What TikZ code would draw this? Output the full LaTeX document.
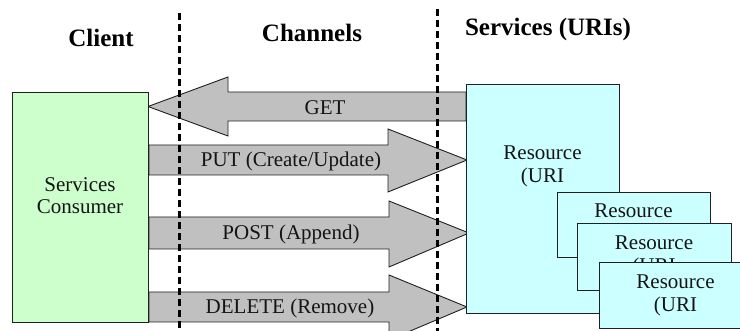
\documentclass[tikz,border=0pt]{standalone}
\usepackage{fontspec}
\setmainfont{Liberation Serif}
\definecolor{arrowgray}{HTML}{C0C0C0}
\definecolor{clientgreen}{HTML}{CCFFCC}
\definecolor{rescyan}{HTML}{CCFFFF}
\definecolor{outline}{HTML}{202020}
\begin{document}
\begin{tikzpicture}[x=1pt,y=-1pt,
  outl/.style={draw=outline, line width=0.9pt},
  blockarrow/.style={outl, fill=arrowgray, line join=miter},
  boxnode/.style={outl, rectangle, inner sep=0pt, outer sep=0pt, anchor=north west},
  hdr/.style={font=\fontsize{25}{28}\selectfont\bfseries, inner sep=0pt, anchor=base},
  lbl/.style={font=\fontsize{21}{23}\selectfont, inner sep=0pt, anchor=base, text=black!92},
  divider/.style={line width=3pt, dash pattern=on 7pt off 4pt, draw=black}]
\useasboundingbox (0,0) rectangle (740,331);
\clip (0,0) rectangle (740,331);
\fill[white] (0,0) rectangle (740,331);

% headers
\node[hdr] (hclient) at (101,47) {Client};
\node[hdr] (hchannels) at (312,42) {Channels};
\node[hdr] (hservices) at (548,36) {Services (URIs)};

% block arrows
\draw[blockarrow] (466,92) -- (228,92) -- (228,77) -- (148,106.5) -- (228,136) -- (228,121) -- (466,121) -- cycle;
\node[lbl] (get) at (325,115) {GET};
\draw[blockarrow] (149,145) -- (388,145) -- (388,129) -- (467,160) -- (388,192) -- (388,175) -- (149,175) -- cycle;
\node[lbl] (put) at (291,167) {PUT (Create/Update)};
\draw[blockarrow] (149,217) -- (389,217) -- (389,201) -- (469,233) -- (389,267) -- (389,249) -- (149,249) -- cycle;
\node[lbl] (post) at (291,240) {POST (Append)};
\draw[blockarrow] (149,292) -- (389,292) -- (389,275) -- (467,307) -- (389,340) -- (389,322) -- (149,322) -- cycle;
\node[lbl] (delete) at (290,314) {DELETE (Remove)};

% client box
\node[boxnode, fill=clientgreen, minimum width=136pt, minimum height=230pt] (client) at (12,92) {};
\node[lbl] (c1) at (80,192) {Services};
\node[lbl] (c2) at (80,214) {Consumer};

% resource boxes
\node[boxnode, fill=rescyan, minimum width=153pt, minimum height=229pt] (res1) at (466,84) {};
\node[lbl] (r1a) at (542.5,160) {Resource};
\node[lbl] (r1b) at (542.5,183) {(URI};

\node[boxnode, fill=rescyan, minimum width=153pt, minimum height=65pt] (res2) at (557,192) {};
\node[lbl] (r2a) at (633.5,218) {Resource};

\node[boxnode, fill=rescyan, minimum width=154pt, minimum height=67pt] (res3) at (577,223) {};
\node[lbl] (r3a) at (654,250) {Resource};
\node[lbl] (r3b) at (654,273) {(URI};

\node[boxnode, fill=rescyan, minimum width=153pt, minimum height=66pt] (res4) at (599,262) {};
\node[lbl] (r4a) at (675.5,289) {Resource};
\node[lbl] (r4b) at (675.5,312) {(URI};

% dividers
\coordinate (d1top) at (179,13);
\coordinate (d1bot) at (179,331);
\coordinate (d2top) at (437,9);
\coordinate (d2bot) at (437,331);
\draw[divider] (d1top) -- (d1bot);
\draw[divider] (d2top) -- (d2bot);
\end{tikzpicture}
\end{document}
